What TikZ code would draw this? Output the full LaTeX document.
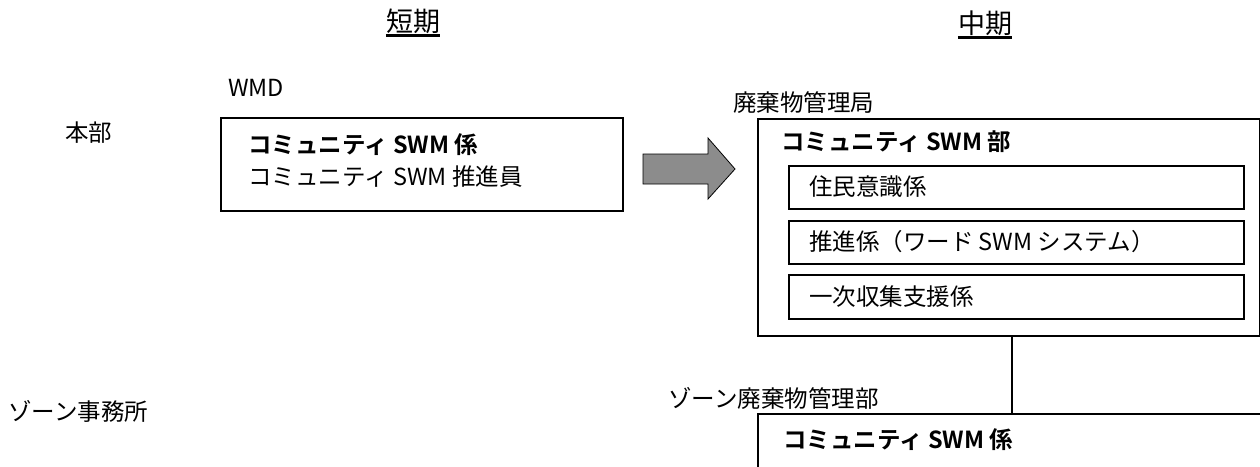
\documentclass[tikz,border=0pt]{standalone}
\usepackage{fontspec}
\setmainfont{Noto Sans CJK JP}[BoldFont={Noto Sans CJK JP Bold}]
\begin{document}
\begin{tikzpicture}[x=1pt,y=-1pt,
  txt/.style={inner sep=0pt, anchor=west, font=\fontsize{23.5}{28}\selectfont},
  head/.style={inner sep=0pt, anchor=center, font=\fontsize{27}{32}\selectfont},
  outerbox/.style={draw, line width=1.6pt, inner sep=0pt},
  innerbox/.style={draw, line width=1.3pt, inner sep=0pt},
  link/.style={draw, line width=1.5pt},
  uline/.style={line width=2.4pt}]
\useasboundingbox (0,0) rectangle (1260,466);
% headings
\node[head] (short) at (413,21) {短期};
\node[head] (mid) at (985,23) {中期};
\draw[uline] ([yshift=-2pt]short.south west) -- ([yshift=-2pt]short.south east);
\draw[uline] ([yshift=-2pt]mid.south west) -- ([yshift=-2pt]mid.south east);
% row labels
\node[txt] (hq) at (65,133) {本部};
\node[txt] (zo) at (8,411) {ゾーン事務所};
% short-term box
\node[txt] (wmd) at (228,88) {WMD};
\node[outerbox, minimum width=402pt, minimum height=93pt] (sbox) at (422,164.5) {};
\node[txt] (s1) at (248,145) {\textbf{コミュニティ SWM 係}};
\node[txt] (s2) at (248,177) {コミュニティ SWM 推進員};
% arrow
\draw[fill=black!45, line width=0.8pt] (643,154) -- (708,154) -- (708,138) -- (735,169) -- (708,199) -- (708,184) -- (643,184) -- cycle;
% mid-term box
\node[txt] (wmb) at (733,103) {廃棄物管理局};
\node[outerbox, minimum width=501.5pt, minimum height=217pt] (mbox) at (1008.75,227.5) {};
\node[txt] (m0) at (781,142) {\textbf{コミュニティ SWM 部}};
\node[innerbox, minimum width=455pt, minimum height=43pt] (b1) at (1016.5,187.5) {};
\node[innerbox, minimum width=455pt, minimum height=43pt] (b2) at (1016.5,242.5) {};
\node[innerbox, minimum width=455pt, minimum height=44pt] (b3) at (1016.5,297) {};
\node[txt] (t1) at (809,187) {住民意識係};
\node[txt] (t2) at (809,242) {推進係（ワード SWM システム）};
\node[txt] (t3) at (809,297) {一次収集支援係};
% zone
\node[txt] (zwm) at (668,398) {ゾーン廃棄物管理部};
\node[outerbox, minimum width=510pt, minimum height=70pt] (zbox) at (1013,449) {};
\node[txt] (z1) at (783,440) {\textbf{コミュニティ SWM 係}};
\coordinate (lx) at (1012,0);
\draw[link] (lx |- mbox.south) -- (lx |- zbox.north);
\end{tikzpicture}
\end{document}
